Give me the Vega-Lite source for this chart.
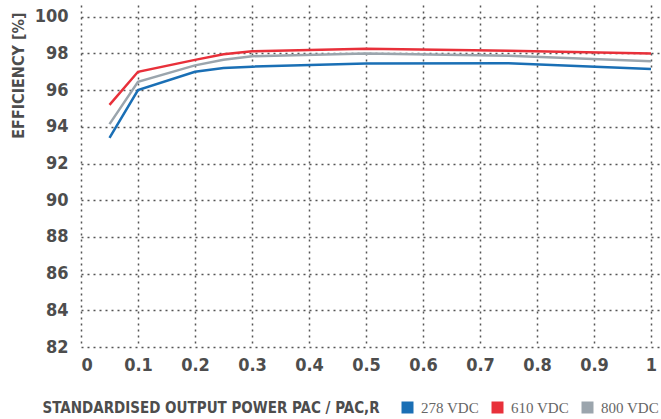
{
  "$schema": "https://vega.github.io/schema/vega-lite/v6.json",
  "autosize": "none",
  "width": 579,
  "height": 342,
  "padding": {"left": 81, "top": 5, "right": 1, "bottom": 72},
  "background": "white",
  "config": {"view": {"stroke": null}},
  "data": {
    "values": [
      {"p": 0.05, "eff": 93.4, "s": "278 VDC"},
      {"p": 0.1, "eff": 96.0, "s": "278 VDC"},
      {"p": 0.2, "eff": 97.0, "s": "278 VDC"},
      {"p": 0.25, "eff": 97.2, "s": "278 VDC"},
      {"p": 0.3, "eff": 97.28, "s": "278 VDC"},
      {"p": 0.5, "eff": 97.45, "s": "278 VDC"},
      {"p": 0.75, "eff": 97.47, "s": "278 VDC"},
      {"p": 1.0, "eff": 97.15, "s": "278 VDC"},
      {"p": 0.05, "eff": 95.2, "s": "610 VDC"},
      {"p": 0.1, "eff": 97.0, "s": "610 VDC"},
      {"p": 0.2, "eff": 97.65, "s": "610 VDC"},
      {"p": 0.25, "eff": 97.95, "s": "610 VDC"},
      {"p": 0.3, "eff": 98.12, "s": "610 VDC"},
      {"p": 0.5, "eff": 98.25, "s": "610 VDC"},
      {"p": 0.75, "eff": 98.15, "s": "610 VDC"},
      {"p": 1.0, "eff": 98.0, "s": "610 VDC"},
      {"p": 0.05, "eff": 94.15, "s": "800 VDC"},
      {"p": 0.1, "eff": 96.45, "s": "800 VDC"},
      {"p": 0.2, "eff": 97.35, "s": "800 VDC"},
      {"p": 0.25, "eff": 97.65, "s": "800 VDC"},
      {"p": 0.3, "eff": 97.85, "s": "800 VDC"},
      {"p": 0.5, "eff": 98.0, "s": "800 VDC"},
      {"p": 0.75, "eff": 97.87, "s": "800 VDC"},
      {"p": 1.0, "eff": 97.57, "s": "800 VDC"}
    ]
  },
  "mark": {"type": "line", "strokeWidth": 2.5, "clip": true},
  "encoding": {
    "x": {
      "field": "p",
      "type": "quantitative",
      "scale": {"domain": [0, 1.0158], "nice": false, "zero": false},
      "axis": {
        "values": [0, 0.1, 0.2, 0.3, 0.4, 0.5, 0.6, 0.7, 0.8, 0.9, 1],
        "labelExpr": "datum.value == 0 ? '0' : datum.value == 1 ? '1' : format(datum.value, '.1f')",
        "title": "STANDARDISED OUTPUT POWER PAC / PAC,R",
        "titleFont": "DejaVu Sans Condensed",
        "titleFontSize": 15,
        "titleFontWeight": "bold",
        "titleColor": "#4d4d4d",
        "titleAnchor": "start",
        "titleAlign": "left",
        "titleBaseline": "alphabetic",
        "titleX": -39,
        "titleY": 65,
        "labelFont": "DejaVu Sans Condensed",
        "labelFontSize": 18,
        "labelFontWeight": "bold",
        "labelColor": "#4d4d4d",
        "labelPadding": 9,
        "domain": false,
        "ticks": false,
        "grid": true,
        "gridColor": "#555555",
        "gridDash": [2, 4],
        "gridWidth": 1.5
      }
    },
    "y": {
      "field": "eff",
      "type": "quantitative",
      "scale": {"domain": [82, 100.64], "nice": false, "zero": false},
      "axis": {
        "values": [82, 84, 86, 88, 90, 92, 94, 96, 98, 100],
        "title": "EFFICIENCY [%]",
        "titleFont": "DejaVu Sans Condensed",
        "titleFontSize": 16,
        "titleFontWeight": "bold",
        "titleColor": "#4d4d4d",
        "titleAngle": 270,
        "titleAlign": "right",
        "titleBaseline": "middle",
        "titleX": -63,
        "titleY": 7,
        "labelFont": "DejaVu Sans Condensed",
        "labelFontSize": 18,
        "labelFontWeight": "bold",
        "labelColor": "#4d4d4d",
        "labelPadding": 13,
        "domain": false,
        "ticks": false,
        "grid": true,
        "gridColor": "#555555",
        "gridDash": [2, 4],
        "gridWidth": 1.5
      }
    },
    "color": {
      "field": "s",
      "type": "nominal",
      "scale": {"domain": ["278 VDC", "610 VDC", "800 VDC"], "range": ["#1a6fb5", "#e8303a", "#9ba5ad"]},
      "legend": {
        "title": null,
        "orient": "none",
        "direction": "horizontal",
        "legendX": 319,
        "legendY": 395,
        "gridAlign": "none",
        "symbolType": "square",
        "symbolSize": 16,
        "symbolStrokeWidth": 8,
        "labelFont": "Liberation Serif",
        "labelFontSize": 15,
        "labelColor": "#666666",
        "columnPadding": 0,
        "labelOffset": 6
      }
    }
  }
}
